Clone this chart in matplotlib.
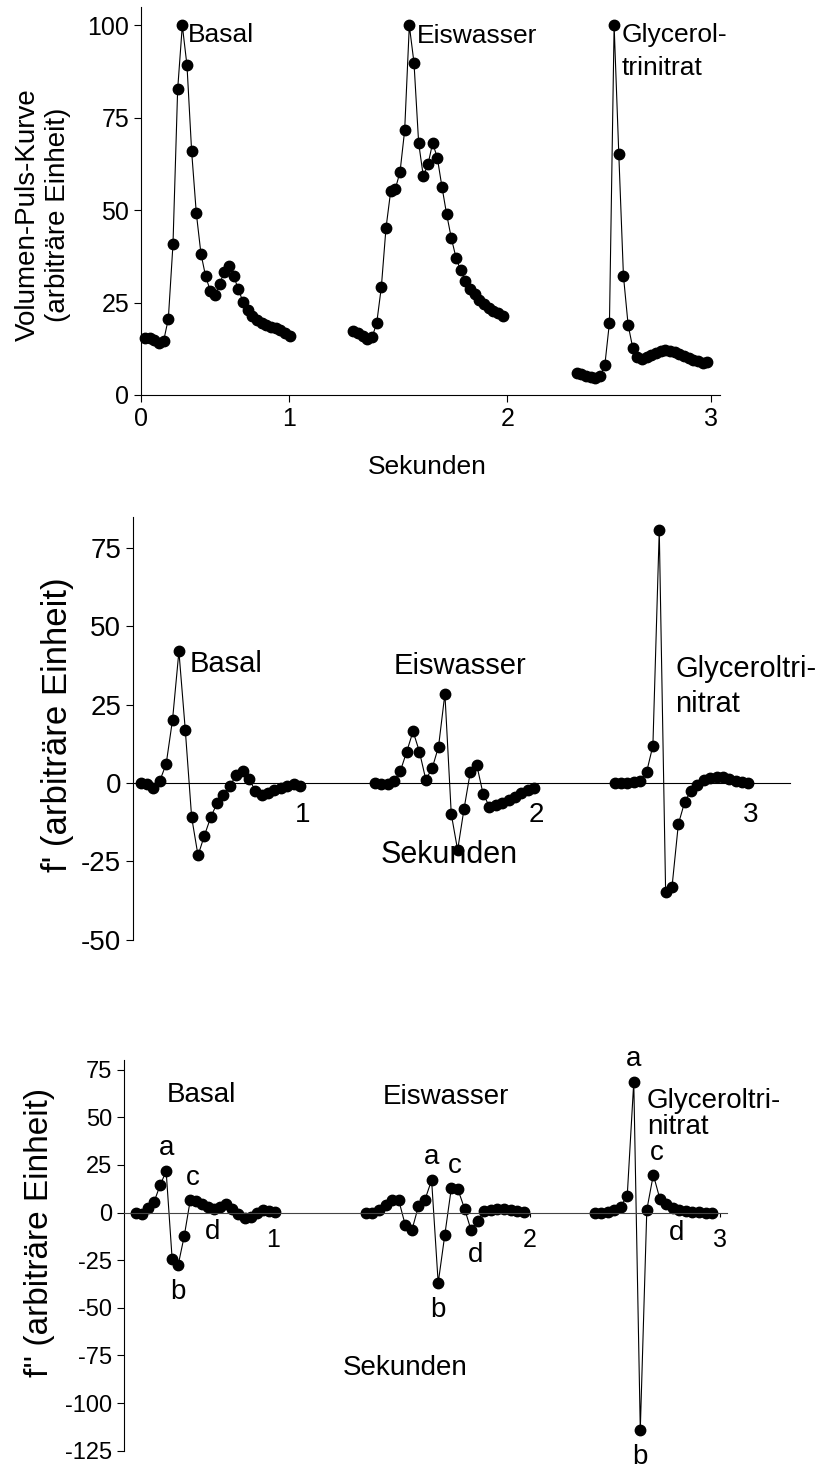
import numpy as np
import matplotlib
matplotlib.use('Agg')
import matplotlib.pyplot as plt

plt.rcParams['font.family'] = ['Liberation Sans', 'DejaVu Sans']
plt.rcParams['axes.unicode_minus'] = False

W, H = 821, 1472

# Volumen-Puls-Kurve (arbitrary units), one beat per condition
basal_vol = [15.5, 15.4, 14.9, 14.0, 14.7, 20.6, 40.8, 82.7, 100, 89.2, 65.9, 49.2,
             38.2, 32.1, 28.2, 27.1, 30.0, 33.4, 34.8, 32.3, 28.6, 25.3, 23.0, 21.4,
             20.3, 19.6, 19.0, 18.3, 18.1, 17.6, 16.9, 16.0]
eis_vol = [17.4, 16.7, 16.0, 15.2, 15.6, 19.4, 29.2, 45.2, 55.1, 55.8, 60.3, 71.6,
           100, 89.9, 68.2, 59.2, 62.4, 68.2, 64.2, 56.3, 48.9, 42.5, 37.2, 33.7,
           30.9, 28.8, 27.2, 25.7, 24.6, 23.6, 22.8, 22.1, 21.4]
gly_vol = [6.0, 5.6, 5.2, 4.9, 4.6, 5.2, 8.0, 19.6, 100, 65.3, 32.2, 19.0, 12.7,
           10.2, 9.8, 10.2, 10.8, 11.5, 12.0, 12.2, 12.0, 11.6, 11.1, 10.6, 10.1,
           9.6, 9.2, 8.7, 9.0]

# first derivative f'
basal_d1 = [0, -0.3, -1.6, 0.7, 6.1, 20.2, 42.0, 17.0, -10.9, -23.1, -16.8, -10.9,
            -6.4, -3.7, -1.1, 2.7, 3.9, 1.3, -2.4, -3.7, -3.2, -2.1, -1.7, -1.1,
            -0.2, -0.9]
eis_d1 = [0, -0.3, -0.3, 0.5, 3.8, 10.0, 16.5, 10.0, 1.1, 4.7, 11.6, 28.5, -9.9,
          -21.4, -8.3, 3.6, 5.8, -3.5, -7.5, -7.0, -6.3, -5.3, -4.3, -3.3, -2.3, -1.5]
gly_d1 = [0, 0, 0, 0.2, 0.7, 3.4, 11.9, 80.7, -34.8, -33.2, -13.1, -6.0, -2.4,
          -0.6, 1.0, 1.5, 1.8, 1.8, 1.3, 0.7, 0.2, 0]

# second derivative f''
basal_d2 = [0, -0.9, 2.6, 5.6, 14.3, 21.7, -24.5, -27.5, -12.4, 6.5, 5.9, 4.7, 3.0,
            2.1, 3.0, 4.4, 2.1, -1.0, -3.1, -2.3, 0, 1.2, 0.9, 0.3]
eis_d2 = [0, -0.2, 1.2, 3.8, 6.5, 6.5, -6.6, -9.3, 3.3, 6.8, 17.0, -37, -11.9, 12.9,
          12.1, 2.1, -9.3, -4.4, 0.9, 1.2, 1.6, 2.1, 1.2, 0.9, 0.3]
gly_d2 = [0, 0, 0.5, 1.4, 3.1, 8.9, 68.5, -114, 1.4, 19.8, 7.2, 4.4, 2.6, 1.4, 0.9,
          0.5, 0.2, -0.3, -0.3]

# peak labels in the f'' panel: (series index of the point, letter)
basal_marks = [(5, 'a'), (7, 'b'), (9, 'c'), (12, 'd')]
eis_marks = [(10, 'a'), (11, 'b'), (13, 'c'), (16, 'd')]
gly_marks = [(6, 'a'), (7, 'b'), (9, 'c'), (12, 'd')]


def box(x0, y0, x1, y1):
    # pixel box -> [left, bottom, width, height] in figure fraction
    return [x0 / W, 1 - y1 / H, (x1 - x0) / W, (y1 - y0) / H]


def seg_x(start, dt, n):
    return start + dt * np.arange(n)


def label(x, y, s, **kw):
    fig.text(x / W, 1 - y / H, s, **kw)


def draw(ax, xs, ys):
    ax.plot(xs, ys, '-o', color='black', lw=0.8, ms=7.5, clip_on=False)


fig = plt.figure(figsize=(W / 100, H / 100), dpi=100)

# ---------- top: volume pulse curve
ax1 = fig.add_axes(box(141, 7, 720, 395))
draw(ax1, seg_x(0.027, 0.0315, len(basal_vol)), basal_vol)
draw(ax1, seg_x(1.434, 0.0315, len(eis_vol)), eis_vol)
draw(ax1, seg_x(2.943, 0.0315, len(gly_vol)), gly_vol)
ax1.set_xlim(0, 3.91)
ax1.set_ylim(0, 105)
ax1.set_yticks([0, 25, 50, 75, 100])
ax1.set_xticks([0, 1, 2.473, 3.851])
ax1.set_xticklabels(['0', '1', '2', '3'])
ax1.tick_params(labelsize=18, length=5, width=0.8)

label(188, 42.5, 'Basal', fontsize=19, va='baseline')
label(417, 43.3, 'Eiswasser', fontsize=19, va='baseline')
label(621.7, 42.3, 'Glycerol-', fontsize=19, va='baseline')
label(621.7, 75, 'trinitrat', fontsize=19, va='baseline')
label(427, 467, 'Sekunden', fontsize=19, ha='center', va='center')
label(43, 215, 'Volumen-Puls-Kurve\n(arbiträre Einheit)', fontsize=20,
      rotation=90, ha='center', va='center', multialignment='center')

# ---------- middle: f'
ax2 = fig.add_axes(box(133, 516.7, 790, 939.7))
draw(ax2, seg_x(0.0456, 0.0377, len(basal_d1)), basal_d1)
draw(ax2, seg_x(1.432, 0.0377, len(eis_d1)), eis_d1)
draw(ax2, seg_x(2.852, 0.0377, len(gly_d1)), gly_d1)
ax2.set_xlim(0, 3.89)
ax2.set_ylim(-50, 85)
ax2.spines['bottom'].set_position(('data', 0))
ax2.set_yticks([-50, -25, 0, 25, 50, 75])
ax2.set_xticks([1.004, 2.39, 3.657])
ax2.set_xticklabels(['1', '2', '3'])
ax2.tick_params(axis='y', labelsize=20, length=5, width=0.8)
ax2.tick_params(axis='x', labelsize=20, length=0, pad=14)

label(190, 671.7, 'Basal', fontsize=21, va='baseline')
label(393.3, 674.3, 'Eiswasser', fontsize=21, va='baseline')
label(675, 676.7, 'Glyceroltri-', fontsize=21, va='baseline')
label(675, 711.7, 'nitrat', fontsize=21, va='baseline')
label(449, 855, 'Sekunden', fontsize=22, ha='center', va='center')
label(57, 725, "f' (arbiträre Einheit)", fontsize=25,
      rotation=90, ha='center', va='center')

# ---------- bottom: f''
ax3 = fig.add_axes(box(124, 1060, 727, 1450.8))
segs = [(0.0805, 0.0405, basal_d2, basal_marks),
        (1.624, 0.0442, eis_d2, eis_marks),
        (3.161, 0.0438, gly_d2, gly_marks)]
offsets = {'a': (0, 23), 'b': (0, -27), 'c': (3, 22), 'd': (4, -25)}
for start, dt, vals, marks in segs:
    xs = seg_x(start, dt, len(vals))
    draw(ax3, xs, vals)
    for i, letter in marks:
        ax3.annotate(letter, (xs[i], vals[i]), xytext=offsets[letter],
                     textcoords='offset pixels', fontsize=20,
                     ha='center', va='center')
ax3.set_xlim(0, 4.05)
ax3.set_ylim(-125, 80)
ax3.spines['bottom'].set_position(('data', 0))
ax3.spines['bottom'].set_color('#444444')
ax3.set_yticks([-125, -100, -75, -50, -25, 0, 25, 50, 75])
ax3.set_xticks([1.0, 2.725, 4.0])
ax3.set_xticklabels(['1', '2', '3'])
ax3.tick_params(axis='y', labelsize=17, length=5, width=0.8)
ax3.tick_params(axis='x', labelsize=18, length=3, width=0.8, pad=8)

label(166.7, 1101.7, 'Basal', fontsize=20, va='baseline')
label(382.7, 1104, 'Eiswasser', fontsize=20, va='baseline')
label(647, 1108.3, 'Glyceroltri-', fontsize=20, va='baseline')
label(647, 1134.3, 'nitrat', fontsize=20, va='baseline')
label(405, 1368, 'Sekunden', fontsize=20, ha='center', va='center')
label(40, 1232, "f'' (arbiträre Einheit)", fontsize=24,
      rotation=90, ha='center', va='center')

for ax in (ax1, ax2, ax3):
    ax.spines['top'].set_visible(False)
    ax.spines['right'].set_visible(False)
    ax.patch.set_alpha(0)

fig.savefig('out.png', dpi=100)
